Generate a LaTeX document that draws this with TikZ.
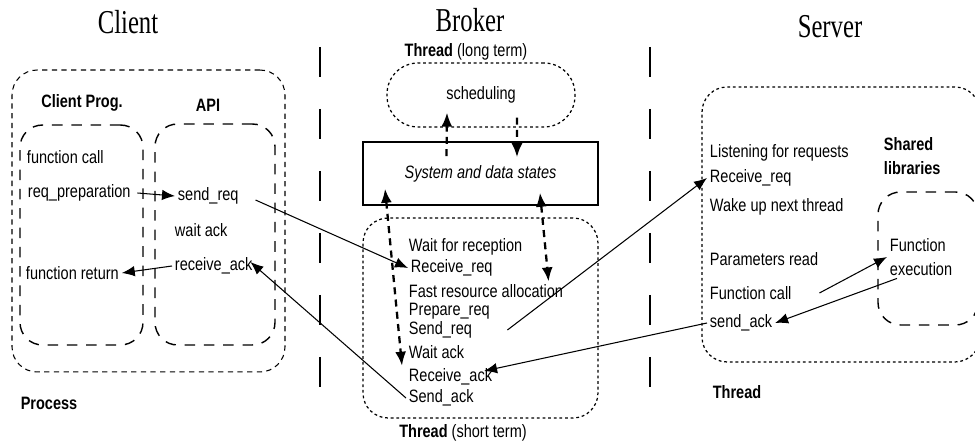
\documentclass[tikz,border=0pt]{standalone}
\usepackage{fontspec}
\setmainfont{Liberation Sans}[FakeStretch=0.81]
\newfontfamily\titlefont{Liberation Serif}[FakeStretch=0.74]
\usetikzlibrary{arrows.meta}
\tikzset{
  box-process/.style={draw,line width=0.6pt,rounded corners=0.5cm,
    dash pattern=on 3pt off 2.5pt},
  box-inner/.style={draw,line width=0.8pt,rounded corners=0.45cm,
    dash pattern=on 6pt off 5pt},
  box-thread/.style={draw,line width=0.7pt,dash pattern=on 1.6pt off 1.6pt},
  box-state/.style={draw,line width=0.9pt,font=\fontsize{10.2}{12}\selectfont\itshape},
  txt/.style={anchor=west,inner sep=1.5pt},
  lbl/.style={inner sep=1.5pt},
  lbl-bold/.style={inner sep=1.5pt,font=\fontsize{10.2}{12}\selectfont\bfseries},
  title/.style={font=\titlefont\fontsize{19}{21}\selectfont},
  sep-line/.style={line width=0.6pt,dash pattern=on 0.6cm off 0.64cm},
  arrow/.style={-{Latex[length=2.6mm,width=2.1mm]},line width=0.6pt},
  arrow-state/.style={-{Latex[length=2.8mm,width=2.2mm]},line width=1.3pt,
    dash pattern=on 4pt off 3pt},
  arrow-both/.style={arrow-state,{Latex[length=2.8mm,width=2.2mm]}-{Latex[length=2.8mm,width=2.2mm]}},
}
\begin{document}
\begin{tikzpicture}[x=0.02cm,y=-0.02cm,every node/.style={font=\fontsize{10.2}{12}\selectfont}]
  \useasboundingbox (0,0) rectangle (975,442);
  % titles and separators
  \node[title] (tclient) at (128,22) {Client};
  \node[title] (tbroker) at (470,20) {Broker};
  \node[title] (tserver) at (830,27) {Server};
  \draw[sep-line] (320,47) -- (320,390);
  \draw[sep-line] (650,47) -- (650,390);
  % client
  \node[box-process,minimum width=5.46cm,minimum height=6.04cm] (process) at (148.5,221) {};
  \node[box-inner,minimum width=2.46cm,minimum height=4.4cm] (prog) at (81.5,235) {};
  \node[box-inner,minimum width=2.4cm,minimum height=4.42cm] (api) at (215,234.5) {};
  \node[lbl-bold] (lprog) at (82,103) {Client Prog.};
  \node[lbl-bold] (lapi) at (208,105) {API};
  \node[lbl-bold] (lprocess) at (49,403) {Process};
  \node[txt] (cfcall) at (24,157) {function call};
  \node[txt] (cprep) at (25,193) {req\_preparation};
  \node[txt] (cret) at (23,273) {function return};
  \node[txt] (csend) at (175,196) {send\_req};
  \node[txt] (cwait) at (172,230) {wait ack};
  \node[txt] (crecv) at (172,266) {receive\_ack};
  % broker
  \node[lbl] (lltthread) at (466,52) {\textbf{Thread} (long term)};
  \node[box-thread,rounded corners=0.62cm,minimum width=3.76cm,minimum height=1.28cm] (sched) at (481,95) {scheduling};
  \node[box-state,minimum width=4.7cm,minimum height=1.26cm] (states) at (480.5,173.5) {System and data states};
  \node[box-thread,rounded corners=0.5cm,minimum width=4.7cm,minimum height=4cm] (stthread) at (480.5,318) {};
  \node[lbl] (lstthread) at (463,433) {\textbf{Thread} (short term)};
  \node[txt] (bwaitrec) at (406,247) {Wait for reception};
  \node[txt] (brecvreq) at (408,268) {Receive\_req};
  \node[txt] (bfast) at (406,291) {Fast resource allocation};
  \node[txt] (bprep) at (406,311) {Prepare\_req};
  \node[txt] (bsendreq) at (406,330) {Send\_req};
  \node[txt] (bwaitack) at (406,352) {Wait ack};
  \node[txt] (brecvack) at (406,377) {Receive\_ack};
  \node[txt] (bsendack) at (406,398) {Send\_ack};
  % server
  \node[box-thread,rounded corners=0.5cm,minimum width=5.56cm,minimum height=5.5cm] (svthread) at (841,224.5) {};
  \node[box-inner,minimum width=2cm,minimum height=2.66cm] (shlib) at (928,258.5) {};
  \node[lbl-bold,anchor=west,align=left,font=\fontsize{10.2}{14}\selectfont\bfseries] (lshlib) at (881,156) {Shared\\libraries};
  \node[txt,align=left,font=\fontsize{10.2}{13.5}\selectfont] (sfexec) at (887,257) {Function\\execution};
  \node[lbl-bold] (lsvthread) at (737,392) {Thread};
  \node[txt] (slisten) at (707,153) {Listening for requests};
  \node[txt] (srecv) at (707,178) {Receive\_req};
  \node[txt] (swake) at (707,207) {Wake up next thread};
  \node[txt] (sparam) at (707,259) {Parameters read};
  \node[txt] (sfcall) at (707,293) {Function call};
  \node[txt] (ssendack) at (707,323) {send\_ack};
  % messages
  \draw[arrow] ([xshift=0.08cm]cprep.east) -- (csend.west);
  \draw[arrow] (crecv.west) -- (cret.east);
  \draw[arrow] ([xshift=0.28cm,yshift=-0.08cm]csend.east) -- (brecvreq.west);
  \draw[arrow] (bsendack.west) -- ([xshift=-0.1cm,yshift=0.08cm]crecv.east);
  \draw[arrow] ([xshift=0.65cm]bsendreq.east) -- (srecv.west);
  \draw[arrow] (ssendack.west) -- ([xshift=-0.22cm,yshift=0.12cm]brecvack.east);
  \draw[arrow] ([xshift=0.5cm]sfcall.east) -- (sfexec.west);
  \draw[arrow] ([xshift=0.2cm]sfexec.south west) -- (ssendack.east);
  % state access
  \draw[arrow-state] ([xshift=-0.68cm,yshift=-0.3cm]states.north) -- ([xshift=-0.68cm,yshift=0.3cm]sched.south);
  \draw[arrow-state] ([xshift=0.72cm,yshift=0.2cm]sched.south) -- ([xshift=0.73cm,yshift=-0.32cm]states.north);
  \draw[arrow-both] ([xshift=-1.91cm,yshift=0.34cm]states.south) -- ([xshift=-0.08cm]brecvack.north west);
  \draw[arrow-both] ([xshift=1.19cm,yshift=0.26cm]states.south) -- ([xshift=-0.35cm]bfast.north east);
\end{tikzpicture}
\end{document}
